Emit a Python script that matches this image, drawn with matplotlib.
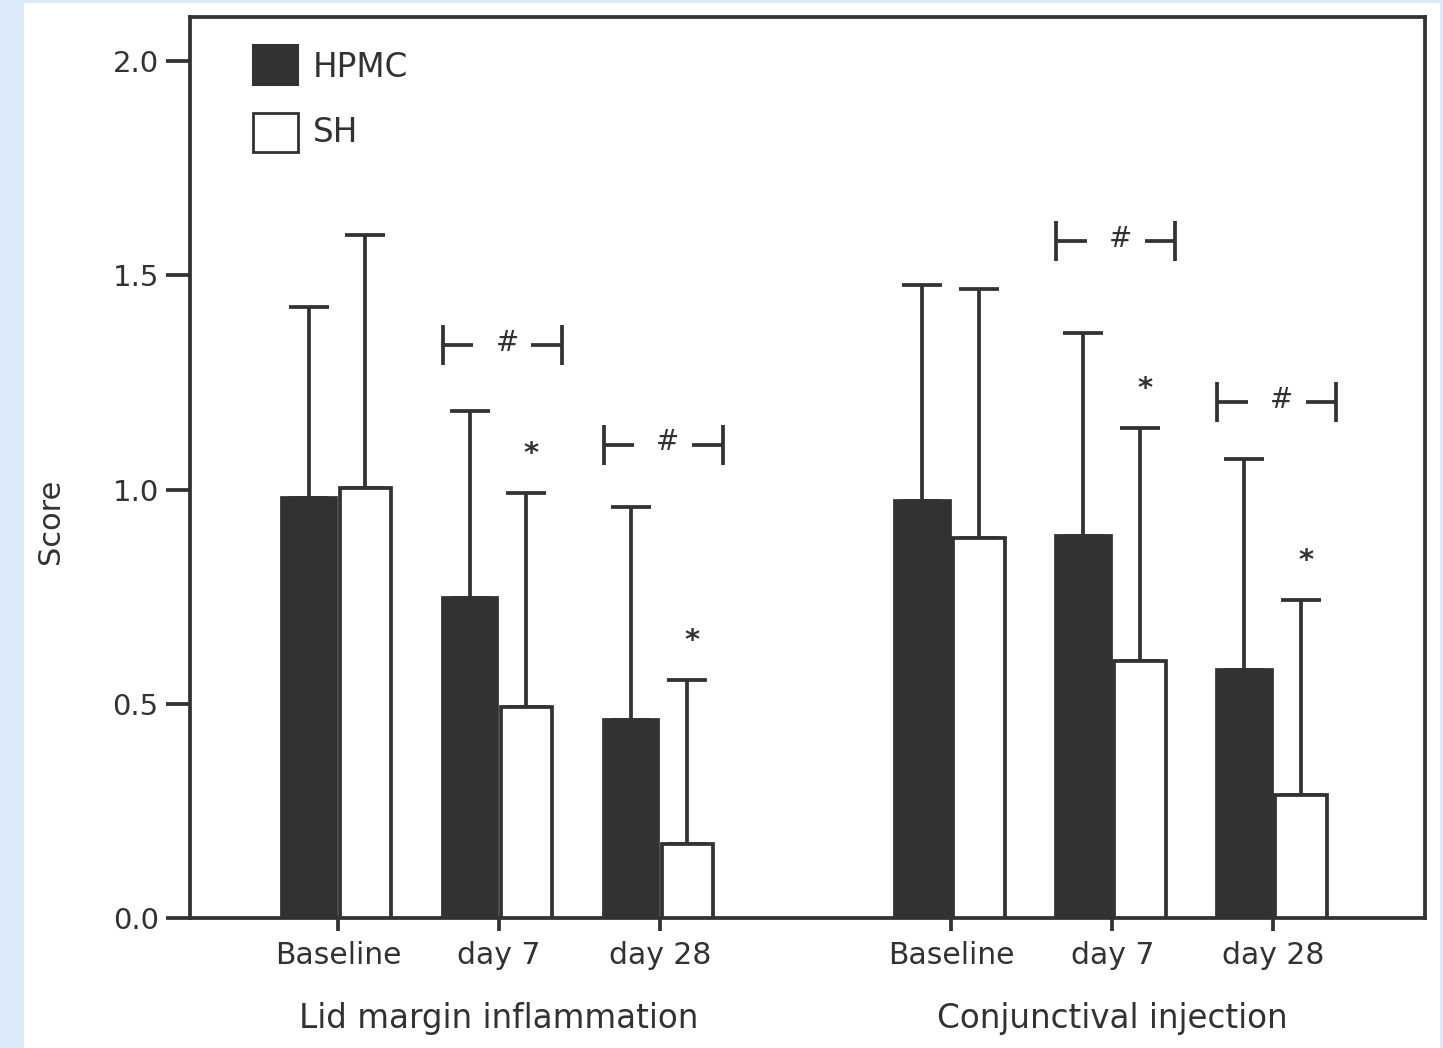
import numpy as np
import matplotlib
matplotlib.use("Agg")
import matplotlib.pyplot as plt
from matplotlib.patches import Rectangle
import matplotlib.transforms as mtransforms

# categories
time_labels = ["Baseline", "day 7", "day 28"]
group_labels = ["Lid margin inflammation", "Conjunctival injection"]
series_names = ["HPMC", "SH"]

# mean scores
hpmc_lid = [0.980, 0.747, 0.462]
sh_lid = [1.003, 0.492, 0.173]
hpmc_conj = [0.974, 0.892, 0.579]
sh_conj = [0.887, 0.600, 0.287]

# upper error bar tops
hpmc_lid_top = [1.426, 1.183, 0.959]
sh_lid_top = [1.594, 0.992, 0.555]
hpmc_conj_top = [1.477, 1.365, 1.071]
sh_conj_top = [1.468, 1.144, 0.742]

# significance marks: (category index, bracket height) for "#", category index for "*"
hash_marks = [(1, 1.337), (2, 1.104), (4, 1.580), (5, 1.204)]
star_marks = [1, 2, 4, 5]

dark = "#323232"
lw = 2.7

hpmc = np.array(hpmc_lid + hpmc_conj)
sh = np.array(sh_lid + sh_conj)
hpmc_err = np.array(hpmc_lid_top + hpmc_conj_top) - hpmc
sh_err = np.array(sh_lid_top + sh_conj_top) - sh

# category centres, second group shifted right by a gap
pos = np.array([0, 1, 2, 3.81, 4.81, 5.81])

fig = plt.figure(figsize=(14.43, 10.48), dpi=100)
fig.patch.set_facecolor("#dbeaf8")
fig.patches.append(Rectangle((24 / 1443, 0), (1440 - 24) / 1443, 1 - 3 / 1048,
                             transform=fig.transFigure, facecolor="white",
                             edgecolor="none", zorder=-1))

ax = fig.add_axes([190 / 1443, (1048 - 918) / 1048, (1425 - 190) / 1443, (918 - 17) / 1048])
ax.set_zorder(1)
ax.set_facecolor("white")

x_h = pos - 0.18
x_s = pos + 0.171

# error bars (upper only)
ax.errorbar(x_h, hpmc, yerr=[np.zeros_like(hpmc), hpmc_err], fmt="none",
            ecolor=dark, elinewidth=lw, capsize=14.5, capthick=lw, zorder=2)
ax.errorbar(x_s, sh, yerr=[np.zeros_like(sh), sh_err], fmt="none",
            ecolor=dark, elinewidth=lw, capsize=14.5, capthick=lw, zorder=2)

ax.bar(x_h, hpmc, width=0.34, color=dark, edgecolor=dark, linewidth=lw, zorder=3)
ax.bar(x_s, sh, width=0.32, color="white", edgecolor=dark, linewidth=lw, zorder=3)

# "#" brackets
for i, yb in hash_marks:
    c = pos[i]
    left, right = c - 0.35, c + 0.39
    ax.plot([left, left], [yb - 0.047, yb + 0.047], color=dark, lw=lw, solid_capstyle="butt")
    ax.plot([right, right], [yb - 0.047, yb + 0.047], color=dark, lw=lw, solid_capstyle="butt")
    ax.plot([left, left + 0.19], [yb, yb], color=dark, lw=lw, solid_capstyle="butt")
    ax.plot([right - 0.19, right], [yb, yb], color=dark, lw=lw, solid_capstyle="butt")
    ax.text(c + 0.05, yb + 0.006, "#", ha="center", va="center", fontsize=20, color=dark)

# "*" above SH error bars
sh_top = sh + sh_err
for i in star_marks:
    ax.annotate("*", (x_s[i] + 0.03, sh_top[i] + 0.115), xytext=(0, -13),
                textcoords="offset points", ha="center", va="baseline",
                fontsize=21, fontweight="bold", color=dark)

ax.set_xlim(-0.919, 6.752)
ax.set_ylim(0, 2.103)
ax.set_yticks([0.0, 0.5, 1.0, 1.5, 2.0])
ax.set_yticklabels(["0.0", "0.5", "1.0", "1.5", "2.0"])
ax.set_xticks(pos)
ax.set_xticklabels(time_labels * 2)

for sp in ax.spines.values():
    sp.set_linewidth(lw)
    sp.set_color(dark)

ax.tick_params(axis="y", direction="out", length=17, width=lw, color=dark,
               labelsize=21, labelcolor=dark, pad=5.5)
ax.tick_params(axis="x", direction="out", length=9, width=lw, color=dark,
               labelsize=21.5, labelcolor=dark, pad=7.5)

# group labels
trans = mtransforms.blended_transform_factory(ax.transData, ax.transAxes)
ax.text(pos[1], -0.122, group_labels[0], transform=trans, ha="center",
        va="baseline", fontsize=23.5, color=dark)
ax.text(pos[4], -0.122, group_labels[1], transform=trans, ha="center",
        va="baseline", fontsize=23.5, color=dark)

ax.text(-0.113, 0.44, "Score", transform=ax.transAxes, rotation=90,
        ha="center", va="center", fontsize=22, color=dark)

# legend drawn by hand
ax.add_patch(Rectangle((0.051, 0.9245), 0.0364, 0.0444, transform=ax.transAxes,
                       facecolor=dark, edgecolor=dark, linewidth=1.5, zorder=4))
ax.add_patch(Rectangle((0.051, 0.850), 0.0364, 0.0433, transform=ax.transAxes,
                       facecolor="white", edgecolor=dark, linewidth=2, zorder=4))
ax.text(0.0996, 0.9434, series_names[0], transform=ax.transAxes, ha="left",
        va="center", fontsize=23.5, color=dark)
ax.text(0.0996, 0.8713, series_names[1], transform=ax.transAxes, ha="left",
        va="center", fontsize=23.5, color=dark)

fig.savefig("out.png", dpi=100, facecolor=fig.get_facecolor())
